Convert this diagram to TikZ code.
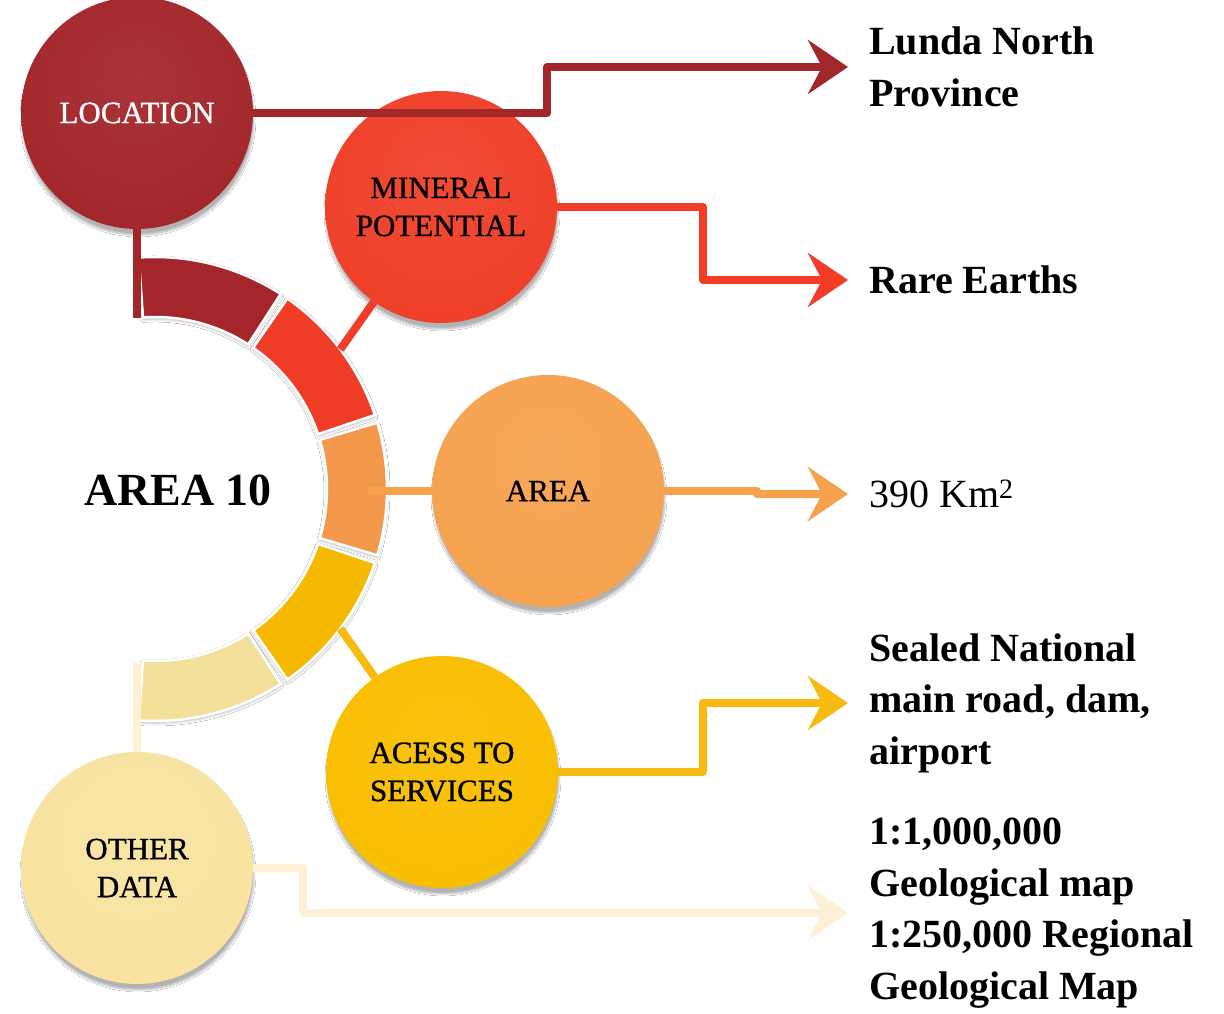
\documentclass[tikz,border=0pt]{standalone}
\usepackage{fontspec}
\setmainfont{Liberation Serif}
\newfontfamily\lblfont{Liberation Serif}[FakeBold=0.9]
\usetikzlibrary{arrows.meta,shadows.blur,calc}

\definecolor{cLoc}{HTML}{A3272B}
\definecolor{cMin}{HTML}{EF4029}
\definecolor{cArea}{HTML}{F6A24F}
\definecolor{cAcc}{HTML}{F8BE00}
\definecolor{cOth}{HTML}{F8E3A0}
\definecolor{sLoc}{HTML}{A5262A}
\definecolor{sMin}{HTML}{EE3C26}
\definecolor{sArea}{HTML}{F2984B}
\definecolor{sAcc}{HTML}{F4B900}
\definecolor{sOth}{HTML}{F3E09B}
\definecolor{lLoc}{HTML}{A2272A}
\definecolor{lMin}{HTML}{F23C27}
\definecolor{lArea}{HTML}{F7A14D}
\definecolor{lAcc}{HTML}{F7BA10}
\definecolor{lOth}{HTML}{FEF0D4}
\colorlet{bubin}{white}\colorlet{bubmid}{gray}\colorlet{bubout}{black}

\pgfdeclareradialshading[bubin,bubmid,bubout]{bubble}{\pgfpoint{0bp}{8bp}}{color(0bp)=(bubin); color(30bp)=(bubmid); color(45bp)=(bubmid); color(58bp)=(bubout)}

\newcommand\ringseg[3]{%
  \path[seg, fill=#3] ($(rc)+(#1:232)$) arc[start angle=#1, end angle=#2, radius=232]
    -- ($(rc)+(#2:172)$) arc[start angle=#2, end angle=#1, radius=172] -- cycle;}

\tikzset{
  bubble/.style={circle, minimum size=232pt, inner sep=0pt, align=center,
    font=\lblfont\fontsize{31}{38}\selectfont,
    /utils/exec={\colorlet{bubin}{#1!94!white}\colorlet{bubmid}{#1}\colorlet{bubout}{#1!82!black}},
    shade, shading=bubble,
    blur shadow={shadow xshift=1pt, shadow yshift=-6pt, shadow blur steps=10, shadow opacity=30}},
  seg/.style={draw=white, line width=2.5pt,
    blur shadow={shadow xshift=0pt, shadow yshift=-2pt, shadow blur radius=3pt, shadow opacity=30}},
  conn/.style={line width=8pt, line join=round},
  arr/.style={conn, -{Stealth[length=40pt, width=54pt, inset=14pt]}},
  rtext/.style={anchor=west, inner xsep=21pt, inner ysep=0pt, align=left,
    font=\bfseries\fontsize{40}{51.5}\selectfont},
}

\begin{document}
\begin{tikzpicture}[x=1pt, y=1pt]
\useasboundingbox (0,0) rectangle (1224,1013);
\fill[white] (0,0) rectangle (1224,1013);

% ring
\coordinate (rc) at (155,524);
\ringseg{94}{57.2}{sLoc}
\ringseg{55.2}{18.6}{sMin}
\ringseg{16.6}{-16.6}{sArea}
\ringseg{-18.6}{-55.2}{sAcc}
\ringseg{-57.2}{-94}{sOth}

% ring anchor points
\coordinate (ringLoc) at (137,695);
\coordinate (ringMin) at ($(rc)+(37:232)$);
\coordinate (ringArea) at (368,522);
\coordinate (ringAcc) at ($(rc)+(-37:232)$);
\coordinate (ringOth) at (137,350);

% centre title
\node[font=\bfseries\fontsize{46}{50}\selectfont] (a10) at (178,523) {AREA 10};

% circles
\node[bubble=cLoc, text=white] (loc) at (137,900) {LOCATION};
\node[bubble=cMin] (min) at (441,806) {MINERAL\\POTENTIAL};
\node[bubble=cArea] (area) at (548,522) {AREA};
\node[bubble=cAcc] (acc) at (442,241) {ACESS TO\\SERVICES};
\node[bubble=cOth] (oth) at (137,145) {OTHER\\DATA};

% connectors to the ring
\draw[conn, lLoc] (loc) -- (ringLoc);
\draw[conn, lMin] (ringMin) -- (min);
\draw[conn, lArea] (ringArea) -- (area);
\draw[conn, lAcc] (ringAcc) -- (acc);
\draw[conn, lOth] (oth) -- (ringOth);

% right texts
\node[rtext] (txtLoc) at (848,946) {Lunda North\\Province};
\node[rtext] (txtMin) at (848,733) {Rare Earths};
\node[rtext, font=\fontsize{40}{51.5}\selectfont] (txtArea) at (848,519) {390 Km\textsuperscript{2}};
\node[rtext] (txtAcc) at (848,310) {Sealed National\\main road, dam,\\airport};
\node[rtext] (txtOth) at (848,100) {1:1,000,000\\Geological map\\1:250,000 Regional\\Geological Map};

% bend coordinates
\coordinate (bendLoc) at (547,0);
\coordinate (bendMin) at (703,0);
\coordinate (bendArea) at (757,0);
\coordinate (bendAcc) at (703,0);
\coordinate (bendOth) at (303,0);

% connectors to the texts
\draw[arr, lLoc] (loc.east) -- (loc.east -| bendLoc) |- (txtLoc.west);
\draw[arr, lMin] (min.east) -- (min.east -| bendMin) |- (txtMin.west);
\draw[arr, lArea] (area.east) -- (area.east -| bendArea) |- (txtArea.west);
\draw[arr, lAcc] (acc.east) -- (acc.east -| bendAcc) |- (txtAcc.west);
\draw[arr, lOth] (oth.east) -- (oth.east -| bendOth) |- (txtOth.west);
\end{tikzpicture}
\end{document}
